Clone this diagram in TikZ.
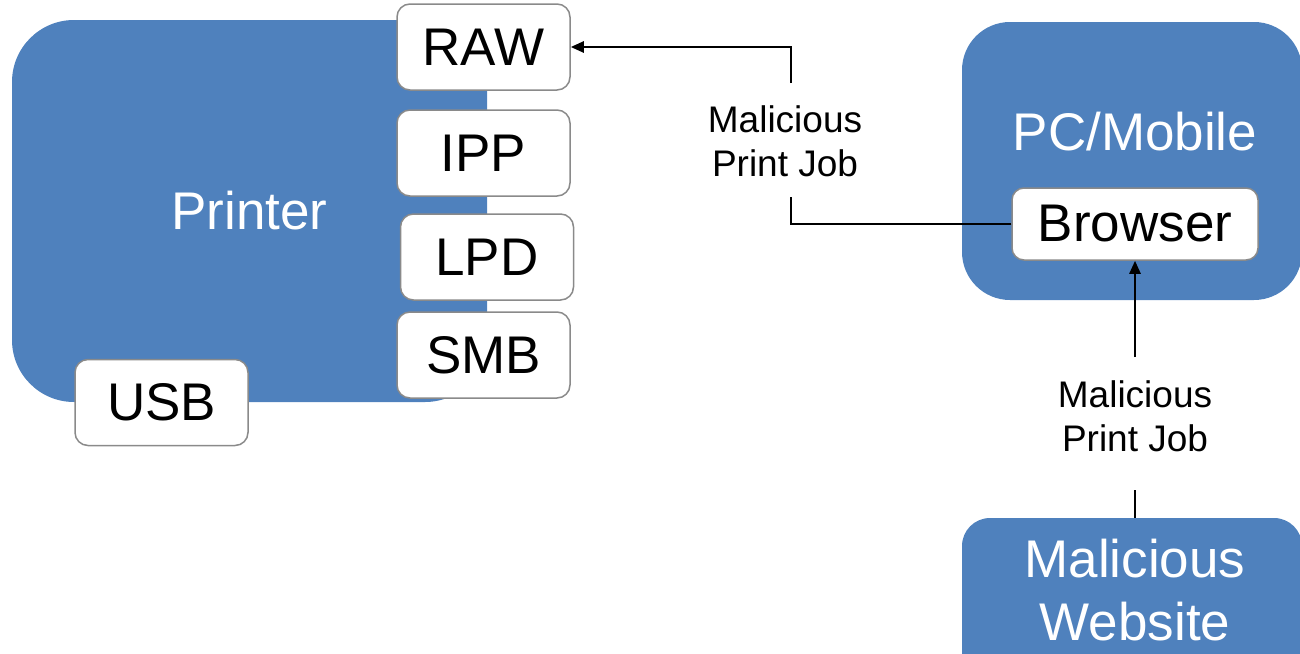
\documentclass[tikz,border=0pt]{standalone}
\usepackage{fontspec}
\setmainfont{Liberation Sans}
\usetikzlibrary{arrows.meta}
\definecolor{offblue}{HTML}{4F81BD}
\definecolor{boxgray}{HTML}{8A8A8A}
\begin{document}
\begin{tikzpicture}[x=1pt,y=-1pt,
  bigbox/.style={fill=offblue, draw=none, inner sep=0pt},
  bigtext/.style={font=\fontsize{53}{63}\selectfont, text=white, align=center, inner sep=0pt},
  port/.style={draw=boxgray, line width=1.5pt, fill=white, rounded corners=13pt,
    minimum width=173pt, minimum height=86pt, inner sep=0pt,
    font=\fontsize{53}{63}\selectfont},
  lbl/.style={font=\fontsize{37}{44}\selectfont, align=center, inner sep=0pt},
  conn/.style={line width=2.5pt, black},
  arr/.style={conn, -{Triangle[length=13pt,width=11pt]}}
]
\useasboundingbox (0,0) rectangle (1300,653);
% printer
\node[bigbox, rounded corners=62pt, minimum width=475pt, minimum height=382pt,
  font=\fontsize{53}{63}\selectfont, text=white] (printer) at (249.5,211) {Printer};
% ports
\node[port] (raw) at (483.5,47) {RAW};
\node[port] (ipp) at (483.5,153) {IPP};
\node[port] (lpd) at (487,257) {LPD};
\node[port] (smb) at (483.5,355) {SMB};
\node[port] (usb) at (161.5,402.5) {USB};
% PC/Mobile
\node[bigbox, rounded corners=48pt, minimum width=340pt, minimum height=278pt] (pc) at (1132,161) {};
\node[bigtext] (pclbl) at (1135,132) {PC/Mobile};
\node[port, minimum width=246pt, minimum height=72pt, rounded corners=12pt] (browser) at (1135,224) {Browser};
% Malicious website
\node[bigbox, rounded corners=28pt, minimum width=340pt, minimum height=170pt] (web) at (1132,603) {};
\node[bigtext] (weblbl) at (1135,590) {Malicious\\Website};
% connector 1
\coordinate (k1) at (791,224);
\coordinate (g3) at (791,197);
\coordinate (g4) at (791,83);
\coordinate (k2) at (791,47);
\node[lbl] (lbl1) at (785,141) {Malicious\\Print Job};
\draw[conn] (browser.west) -- (k1) -- (g3);
\draw[arr] (g4) -- (k2) -- (raw.east);
% connector 2
\coordinate (k3) at (browser.south |- web.north);
\coordinate (g1) at (1135,490);
\coordinate (g2) at (1135,357);
\node[lbl] (lbl2) at (1135,416) {Malicious\\Print Job};
\draw[conn] (k3) -- (g1);
\draw[arr] (g2) -- (browser.south);
\end{tikzpicture}
\end{document}
